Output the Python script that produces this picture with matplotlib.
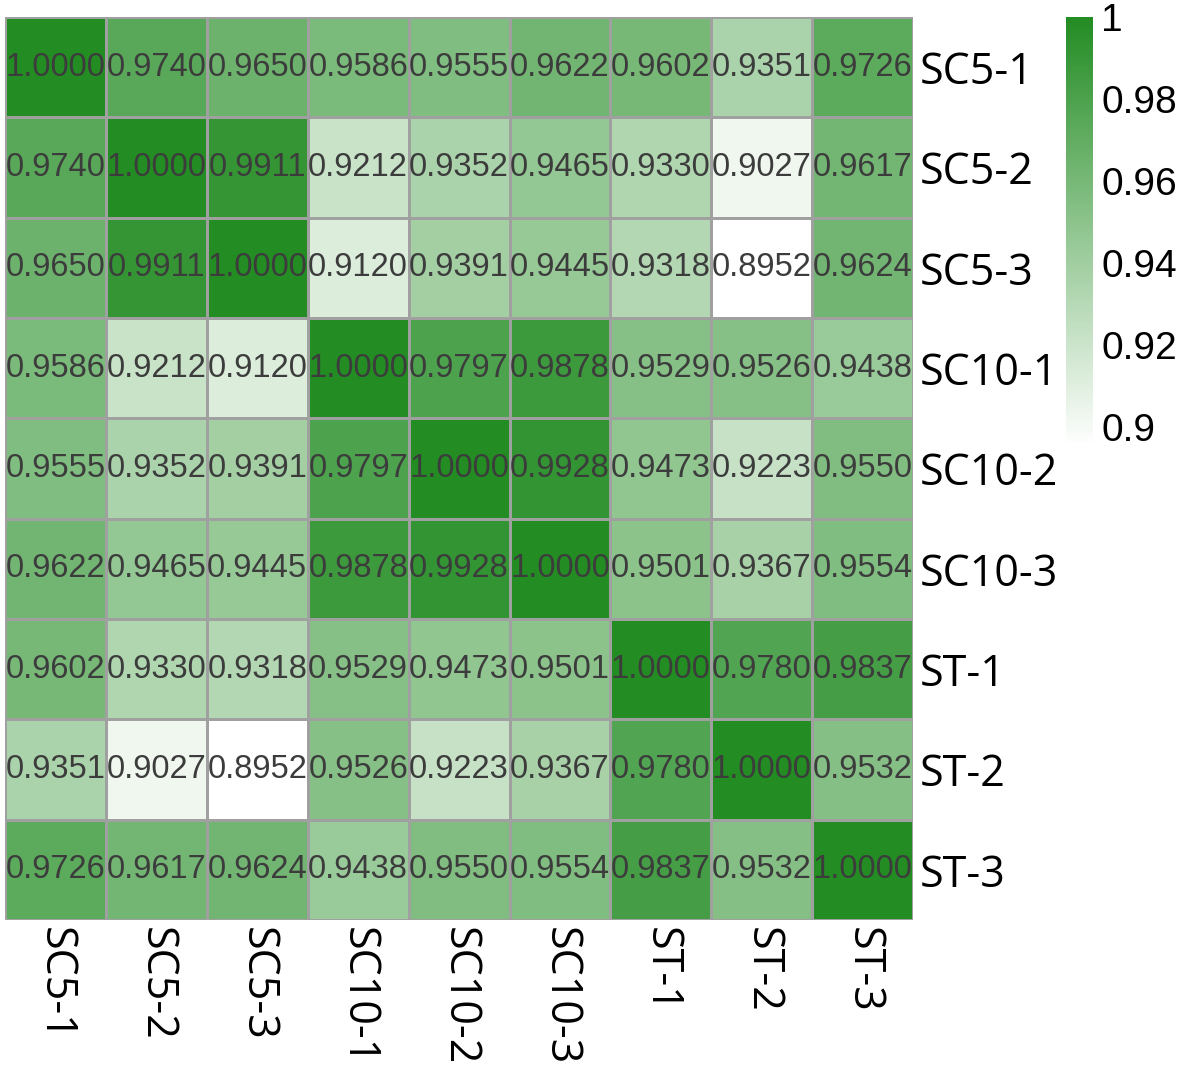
import numpy as np
import matplotlib.pyplot as plt
from matplotlib.colors import LinearSegmentedColormap

# Muestras
etiquetas = ['SC5-1', 'SC5-2', 'SC5-3', 'SC10-1', 'SC10-2', 'SC10-3', 'ST-1', 'ST-2', 'ST-3']

# Matriz de correlación (filas de arriba a abajo)
fila_sc5_1 = [1.0000, 0.9740, 0.9650, 0.9586, 0.9555, 0.9622, 0.9602, 0.9351, 0.9726]
fila_sc5_2 = [0.9740, 1.0000, 0.9911, 0.9212, 0.9352, 0.9465, 0.9330, 0.9027, 0.9617]
fila_sc5_3 = [0.9650, 0.9911, 1.0000, 0.9120, 0.9391, 0.9445, 0.9318, 0.8952, 0.9624]
fila_sc10_1 = [0.9586, 0.9212, 0.9120, 1.0000, 0.9797, 0.9878, 0.9529, 0.9526, 0.9438]
fila_sc10_2 = [0.9555, 0.9352, 0.9391, 0.9797, 1.0000, 0.9928, 0.9473, 0.9223, 0.9550]
fila_sc10_3 = [0.9622, 0.9465, 0.9445, 0.9878, 0.9928, 1.0000, 0.9501, 0.9367, 0.9554]
fila_st_1 = [0.9602, 0.9330, 0.9318, 0.9529, 0.9473, 0.9501, 1.0000, 0.9780, 0.9837]
fila_st_2 = [0.9351, 0.9027, 0.8952, 0.9526, 0.9223, 0.9367, 0.9780, 1.0000, 0.9532]
fila_st_3 = [0.9726, 0.9617, 0.9624, 0.9438, 0.9550, 0.9554, 0.9837, 0.9532, 1.0000]

M = np.array([fila_sc5_1, fila_sc5_2, fila_sc5_3, fila_sc10_1, fila_sc10_2,
              fila_sc10_3, fila_st_1, fila_st_2, fila_st_3])

cmap = LinearSegmentedColormap.from_list('verde', ['#ffffff', '#238c23'])
vmin, vmax = M.min(), 1.0

fig = plt.figure(figsize=(11.81, 10.66), dpi=100)
ax = fig.add_axes([0.0042, 0.137, 0.769, 0.847])

n = len(etiquetas)
im = ax.pcolormesh(np.arange(n + 1), np.arange(n + 1), M, cmap=cmap,
                   vmin=vmin, vmax=vmax, edgecolor='#a0a0a0', linewidth=1.0)
ax.set_xlim(0, n)
ax.set_ylim(n, 0)

for i in range(n):
    for j in range(n):
        ax.text(j + 0.5, i + 0.5, f'{M[i, j]:.4f}', ha='center', va='center',
                fontsize=23.5, color='#3c3c3c', family='Liberation Sans')

ax.set_xticks(np.arange(n) + 0.5)
ax.set_xticklabels(etiquetas, rotation=-90, fontsize=31, family='Open Sans', va='top')
ax.set_yticks(np.arange(n) + 0.5)
ax.set_yticklabels(etiquetas, fontsize=31, family='Open Sans')
ax.yaxis.tick_right()
ax.tick_params(length=0, pad=5)
for s in ax.spines.values():
    s.set_visible(False)

cax = fig.add_axes([0.9026, 0.581, 0.023, 0.403])
cb = fig.colorbar(im, cax=cax, ticks=[0.9, 0.92, 0.94, 0.96, 0.98, 1.0])
cb.ax.set_yticklabels(['0.9', '0.92', '0.94', '0.96', '0.98', '1'])
cb.ax.tick_params(length=0, labelsize=28, pad=6)
for lab in cb.ax.get_yticklabels():
    lab.set_family('Liberation Sans')
cb.outline.set_visible(False)

plt.savefig('out.png', dpi=100)
